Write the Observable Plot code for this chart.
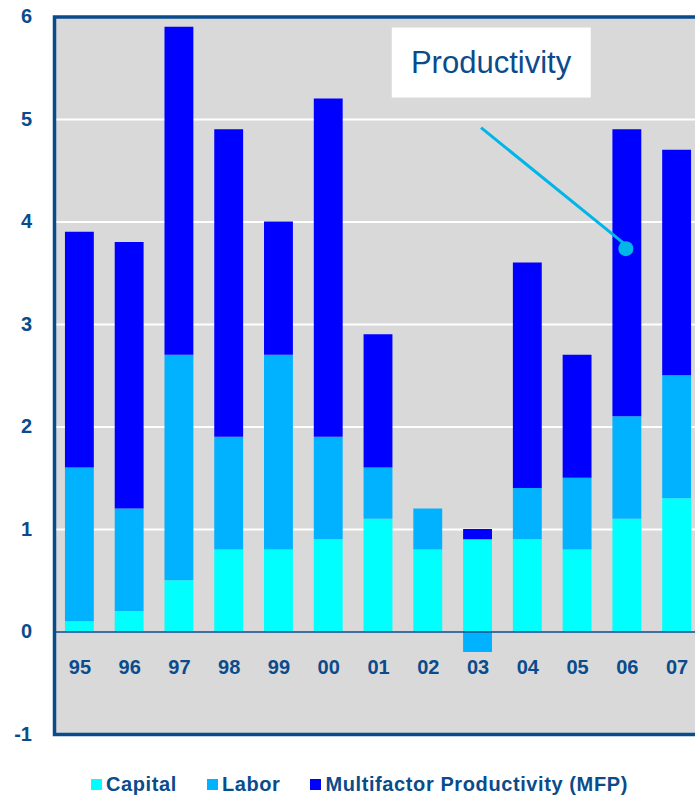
<!DOCTYPE html>
<html>
<head>
<meta charset="utf-8">
<script src="https://cdn.jsdelivr.net/npm/d3@7"></script>
<script src="https://cdn.jsdelivr.net/npm/@observablehq/plot@0.6"></script>
<style>
  body { margin: 0; background: #ffffff; font-family: "Liberation Sans", Arial, sans-serif; }
  #chart svg { display: block; overflow: hidden; }
  .legend { display: flex; align-items: center; margin-left: 91px; padding-top: 12px;
            font-size: 20px; font-weight: bold; color: #0a4b8c; line-height: 24px; letter-spacing: 0.6px; }
  .legend .item { display: flex; align-items: center; margin-right: 30px; }
  .legend .sw { width: 11px; height: 11px; margin-right: 4px; }
</style>
</head>
<body>
<div id="chart"></div>
<div class="legend" id="legend"></div>
<script>
// ---- data ----
const years = ["95","96","97","98","99","00","01","02","03","04","05","06","07"];
const series = ["Capital", "Labor", "Multifactor Productivity (MFP)"];
const capital = [0.1, 0.2, 0.5, 0.8, 0.8, 0.9, 1.1, 0.8, 0.9, 0.9, 0.8, 1.1, 1.3];
const labor   = [1.5, 1.0, 2.2, 1.1, 1.9, 1.0, 0.5, 0.4, -0.2, 0.5, 0.7, 1.0, 1.2];
const mfp     = [2.3, 2.6, 3.2, 3.0, 1.3, 3.3, 1.3, 0.0, 0.1, 2.2, 1.2, 2.8, 2.2];
const yTicks  = [-1, 0, 1, 2, 3, 4, 5, 6];
const gridValues = [1, 2, 3, 4, 5];
const calloutText = ["Productivity"];
const calloutTextAt = [{cat: "03", value: 5.55}];
const calloutLine = [{from: "03", fromValue: 4.92, to: "06", toValue: 3.74}];

// ---- styles ----
const colors = ["#00ffff", "#00b2ff", "#0000ff"];
const darkBlue = "#0a4b8c";

const rows = [];
years.forEach((y, i) => {
  rows.push({year: y, series: series[0], value: capital[i]});
  rows.push({year: y, series: series[1], value: labor[i]});
  rows.push({year: y, series: series[2], value: mfp[i]});
});

const chart = Plot.plot({
  width: 695,
  height: 760,
  marginLeft: 54,
  marginRight: -7,
  marginTop: 16.5,
  marginBottom: 26,
  style: {fontFamily: "'Liberation Sans', Arial, sans-serif", fontSize: "20px", fontWeight: "bold", color: darkBlue, background: "#ffffff"},
  x: {domain: years, paddingInner: 0.42, paddingOuter: 0.22, round: false, axis: null},
  y: {domain: [-1, 6], ticks: yTicks, tickSize: 0, tickPadding: 22.5, tickFormat: d => String(d), label: null},
  color: {domain: series, range: colors},
  marks: [
    Plot.frame({fill: "#d9d9d9", stroke: "none"}),
    Plot.ruleY(gridValues, {stroke: "#ffffff", strokeWidth: 2}),
    Plot.barY(rows, Plot.stackY({x: "year", y: "value", fill: "series", order: series})),
    Plot.ruleY([0], {stroke: darkBlue, strokeWidth: 1.5}),
    Plot.frame({stroke: darkBlue, strokeWidth: 3.5, fill: "none"}),
    Plot.text(years, {x: d => d, y: 0, dy: 35.5, text: d => d, fill: darkBlue, fontSize: 20, fontWeight: "bold"}),
    Plot.link(calloutLine, {x1: "from", y1: "fromValue", x2: "to", y2: "toValue", dx: 3, stroke: "#00b5e8", strokeWidth: 3}),
    Plot.dot(calloutLine, {x: "to", y: "toValue", r: 7.5, dx: -1.5, fill: "#00b5e8", stroke: "none"}),
    Plot.text(calloutTextAt, {x: "cat", y: "value", dx: 13, text: (d, i) => calloutText[i], fill: darkBlue, fontSize: 31, fontWeight: "normal", className: "callout"})
  ]
});
document.getElementById("chart").appendChild(chart);

// white box behind callout text (same transform as the text)
const calloutG = d3.select(chart).select("g.callout");
if (!calloutG.empty()) {
  const textSel = calloutG.select("text");
  const t = textSel.node();
  const bb = t.getBBox();
  const cx = bb.x + bb.width / 2, cy = bb.y + bb.height / 2;
  const w = 199, h = 70;
  calloutG.insert("rect", "text")
    .attr("transform", textSel.attr("transform"))
    .attr("x", cx - w / 2).attr("y", cy - h / 2)
    .attr("width", w).attr("height", h)
    .attr("fill", "#ffffff");
}

// legend
const legend = d3.select("#legend");
series.forEach((s, i) => {
  const item = legend.append("div").attr("class", "item");
  item.append("div").attr("class", "sw").style("background", colors[i]);
  item.append("span").text(s);
});
</script>
</body>
</html>
